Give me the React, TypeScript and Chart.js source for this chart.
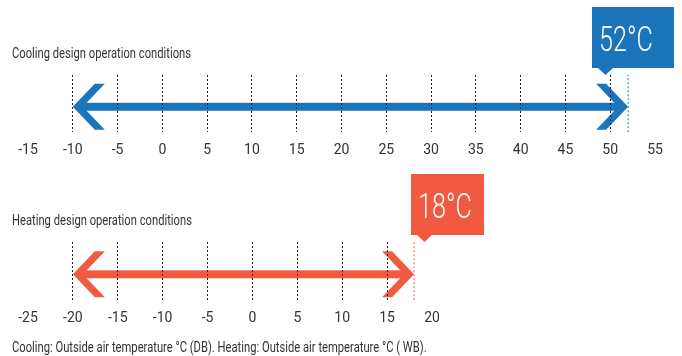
import React, { useEffect, useRef } from "react";
import { Chart, registerables } from "chart.js";

Chart.register(...registerables);

// ---- data ----
const coolingTitle = "Cooling design operation conditions";
const heatingTitle = "Heating design operation conditions";
const footnote = "Cooling: Outside air temperature °C (DB). Heating: Outside air temperature °C ( WB).";

const coolingAxis = [-15, 55];
const coolingRange = [-10, 52];
const coolingLabel = "52°C";

const heatingAxis = [-25, 20];
const heatingRange = [-20, 18];
const heatingLabel = "18°C";

const tickStep = 5;

const BLUE = "#1b75bb";
const RED = "#f15a40";
const FONT = 'Roboto, "Liberation Sans", sans-serif';

const arrowPlugin = {
  id: "arrowDraw",
  beforeDatasetsDraw(chart: any, _args: any, opts: any) {
    const { ctx, scales } = chart;
    const xs = scales.x, ys = scales.y;
    const x0 = xs.getPixelForValue(opts.from);
    const x1 = xs.getPixelForValue(opts.to);
    const yc = ys.getPixelForValue(0);
    ctx.save();
    ctx.fillStyle = opts.color;
    ctx.fillRect(x0 + 6, yc - 4, x1 - x0 - 12, 8);
    const chev = (tx: number, dir: number) => {
      const pts = [[0, 0], [22, -23], [32, -23], [10, 0], [32, 23], [22, 23]];
      ctx.beginPath();
      pts.forEach(([px, py], i) => {
        const X = tx + dir * px, Y = yc + py;
        if (i === 0) ctx.moveTo(X, Y); else ctx.lineTo(X, Y);
      });
      ctx.closePath();
      ctx.fill();
    };
    chev(x0, 1);
    chev(x1, -1);
    ctx.restore();
  },
  afterDraw(chart: any, _args: any, opts: any) {
    const { ctx, scales, chartArea } = chart;
    const xv = scales.x.getPixelForValue(opts.to);
    const left = Math.round(xv + opts.boxOffset);
    const w = opts.boxWidth, h = 61;
    const bottom = Math.round(chartArea.top) - 7;
    const top = bottom - h;
    ctx.save();
    ctx.fillStyle = opts.color;
    ctx.fillRect(left, top, w, h);
    const pc = left + 13.5;
    ctx.beginPath();
    ctx.moveTo(pc - 7.5, bottom);
    ctx.lineTo(pc + 7.5, bottom);
    ctx.lineTo(pc, bottom + 7);
    ctx.closePath();
    ctx.fill();
    ctx.fillStyle = "#ffffff";
    ctx.font = `300 35px ${FONT}`;
    ctx.textBaseline = "alphabetic";
    ctx.textAlign = "left";
    ctx.translate(left + 7, top + 44);
    ctx.scale(0.72, 1);
    ctx.fillText(opts.text, 0, 0);
    ctx.restore();
  },
};

function RangeChart(props: {
  axis: number[]; range: number[]; color: string; text: string;
  padRight: number; padTop: number; boxOffset: number; boxWidth: number; top: number; height: number;
}) {
  const ref = useRef<HTMLCanvasElement>(null);
  useEffect(() => {
    if (!ref.current) return;
    const [min, max] = props.axis;
    const chart = new Chart(ref.current, {
      type: "line",
      data: {
        datasets: [
          {
            data: [{ x: props.range[1], y: -0.8 }, { x: props.range[1], y: 1 }],
            borderColor: props.color,
            borderWidth: 1,
            borderDash: [2, 2],
            pointRadius: 0,
            fill: false,
          },
        ],
      },
      options: {
        animation: false,
        responsive: false,
        maintainAspectRatio: false,
        layout: { padding: { left: 28, right: props.padRight, top: props.padTop, bottom: 0 } },
        plugins: {
          legend: { display: false },
          tooltip: { enabled: false },
          arrowDraw: { from: props.range[0], to: props.range[1], color: props.color, text: props.text, boxOffset: props.boxOffset, boxWidth: props.boxWidth },
        } as any,
        scales: {
          x: {
            type: "linear",
            min, max,
            z: 1,
            ticks: { stepSize: tickStep, color: "#333", font: { family: FONT, size: 14 }, padding: 10, maxRotation: 0 },
            grid: {
              drawTicks: false,
              lineWidth: 1,
              z: 1,
              color: (c: any) => (c.tick && (c.tick.value === min || c.tick.value === max) ? "rgba(0,0,0,0)" : "#222"),
            },
            border: { display: false, dash: [2, 2] },
          },
          y: { type: "linear", min: -0.8, max: 1, display: false },
        },
      } as any,
      plugins: [arrowPlugin],
    });
    return () => chart.destroy();
  }, []);
  return (
    <canvas
      ref={ref}
      width={682}
      height={props.height}
      style={{ position: "absolute", left: 0, top: props.top, width: 682, height: props.height }}
    />
  );
}

const textStyle = (top: number, sx: number): React.CSSProperties => ({
  position: "absolute", left: 12, top, fontFamily: FONT, fontSize: 14, lineHeight: "16px", color: "#333",
  whiteSpace: "nowrap", transform: `scaleX(${sx})`, transformOrigin: "0 0",
});

export default function App() {
  return (
    <div style={{ position: "fixed", left: 0, top: 0, width: 682, height: 356, background: "#fff", overflow: "hidden" }}>
      <RangeChart axis={coolingAxis} range={coolingRange} color={BLUE} text={coolingLabel} padRight={27} padTop={76} boxOffset={-36} boxWidth={82} top={-1} height={170} />
      <RangeChart axis={heatingAxis} range={heatingRange} color={RED} text={heatingLabel} padRight={250} padTop={77} boxOffset={-3} boxWidth={73} top={165} height={172} />
      <div style={textStyle(45, 0.8)}>{coolingTitle}</div>
      <div style={textStyle(212, 0.8)}>{heatingTitle}</div>
      <div style={textStyle(339, 0.8)}>{footnote}</div>
    </div>
  );
}
